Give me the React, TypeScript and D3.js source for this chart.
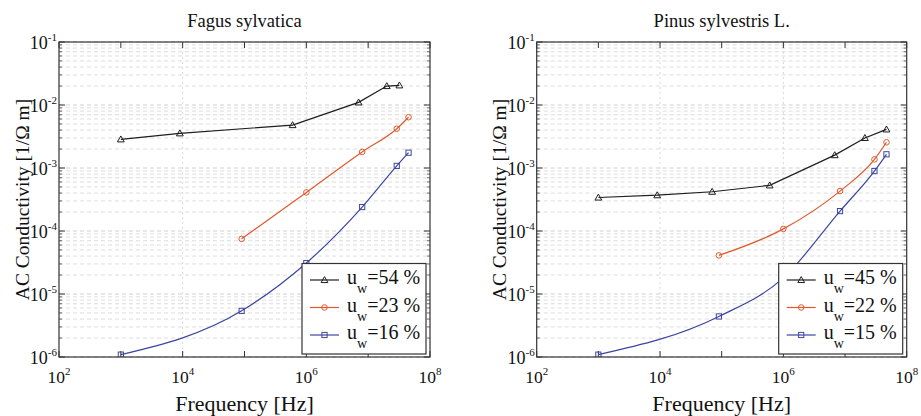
import React from "react";
import * as d3 from "d3";

// ---------- DATA ----------
const fagusTitle = "Fagus sylvatica";
const pinusTitle = "Pinus sylvestris L.";

const fagusLabels = ["54", "23", "16"];
const fagusFreqHigh = [1e3, 9e3, 6e5, 7e6, 2e7, 3.2e7];
const fagusCondHigh = [2.85e-3, 3.55e-3, 4.8e-3, 1.1e-2, 2.0e-2, 2.05e-2];
const fagusFreqMid = [9e4, 1e6, 8e6, 2.9e7, 4.5e7];
const fagusCondMid = [7.5e-5, 4.1e-4, 1.8e-3, 4.2e-3, 6.4e-3];
const fagusFreqLow = [1e3, 9e4, 1e6, 8e6, 2.9e7, 4.5e7];
const fagusCondLow = [1.09e-6, 5.4e-6, 3.1e-5, 2.4e-4, 1.08e-3, 1.75e-3];

const pinusLabels = ["45", "22", "15"];
const pinusFreqHigh = [1e3, 9e3, 7e4, 6e5, 6.8e6, 2.1e7, 4.7e7];
const pinusCondHigh = [3.4e-4, 3.7e-4, 4.2e-4, 5.3e-4, 1.6e-3, 3.0e-3, 4.1e-3];
const pinusFreqMid = [9e4, 1e6, 8.3e6, 3e7, 4.7e7];
const pinusCondMid = [4.1e-5, 1.08e-4, 4.3e-4, 1.37e-3, 2.56e-3];
const pinusFreqLow = [1e3, 9e4, 1e6, 8.3e6, 3e7, 4.7e7];
const pinusCondLow = [1.09e-6, 4.4e-6, 1.8e-5, 2.07e-4, 8.95e-4, 1.65e-3];

const xTickExps = [2, 4, 6, 8];
const yTickExps = [-1, -2, -3, -4, -5, -6];
const xDomain = [1e2, 1e8];
const yDomain = [1e-6, 1e-1];

const seriesColors = ["#1e1e1e", "#e0582c", "#3c46a0"];
const seriesMarkers = ["triangle", "circle", "square"];

const FONT = "Liberation Serif, Tinos, DejaVu Serif, Times New Roman, serif";

type Series = { f: number[]; s: number[]; label: string };

function Marker({ kind, x, y, color }: { kind: string; x: number; y: number; color: string }) {
  if (kind === "triangle") {
    const r = 3.4;
    const pts = `${x},${y - r} ${x - r},${y + r * 0.75} ${x + r},${y + r * 0.75}`;
    return <polygon points={pts} fill="none" stroke={color} strokeWidth={1} />;
  }
  if (kind === "circle") {
    return <circle cx={x} cy={y} r={2.8} fill="none" stroke={color} strokeWidth={1} />;
  }
  return <rect x={x - 2.6} y={y - 2.6} width={5.2} height={5.2} fill="none" stroke={color} strokeWidth={1} />;
}

function Panel({
  id,
  x0,
  x1,
  title,
  series,
}: {
  id: string;
  x0: number;
  x1: number;
  title: string;
  series: Series[];
}) {
  const y0 = 42;
  const y1 = 357;
  const xs = d3.scaleLog().domain(xDomain).range([x0, x1]);
  const ys = d3.scaleLog().domain(yDomain).range([y1, y0]);

  const yMinor: number[] = [];
  for (let e = -6; e < -1; e++) {
    for (let m = 2; m <= 9; m++) yMinor.push(m * Math.pow(10, e));
  }
  const xMajorAll: number[] = [];
  for (let e = 2; e <= 8; e++) xMajorAll.push(Math.pow(10, e));

  const curved = d3
    .line<[number, number]>()
    .x((d) => xs(d[0]))
    .y((d) => ys(d[1]))
    .curve(d3.curveMonotoneX);
  const straight = d3
    .line<[number, number]>()
    .x((d) => xs(d[0]))
    .y((d) => ys(d[1]));

  const cx = (x0 + x1) / 2;
  const cy = (y0 + y1) / 2;

  const lgX0 = x1 - 128;
  const lgX1 = x1 - 4;
  const lgY0 = 263.5;
  const lgY1 = 354;
  const rowY = [280, 307.5, 335];

  return (
    <g>
      <defs>
        <clipPath id={`clip-${id}`}>
          <rect x={x0} y={y0} width={x1 - x0} height={y1 - y0} />
        </clipPath>
      </defs>
      <rect x={x0} y={y0} width={x1 - x0} height={y1 - y0} fill="#fff" />
      {yMinor.map((v, i) => (
        <line key={"gm" + i} x1={x0} x2={x1} y1={ys(v)} y2={ys(v)} stroke="#d4d4d4" strokeWidth={0.8} strokeDasharray="4,3" />
      ))}
      {yTickExps.map((e) => (
        <line key={"gM" + e} x1={x0} x2={x1} y1={ys(Math.pow(10, e))} y2={ys(Math.pow(10, e))} stroke="#c4c4c4" strokeWidth={0.8} strokeDasharray="4,3" />
      ))}
      {[4, 6].map((e) => (
        <line key={"gx" + e} x1={xs(Math.pow(10, e))} x2={xs(Math.pow(10, e))} y1={y0} y2={y1} stroke="#cfcfcf" strokeWidth={0.8} strokeDasharray="2,3" />
      ))}
      {yTickExps.map((e) => {
        const y = ys(Math.pow(10, e));
        return (
          <g key={"ty" + e}>
            <line x1={x0} x2={x0 + 6} y1={y} y2={y} stroke="#333" />
            <line x1={x1} x2={x1 - 6} y1={y} y2={y} stroke="#333" />
          </g>
        );
      })}
      {yMinor.map((v, i) => (
        <g key={"tym" + i}>
          <line x1={x0} x2={x0 + 3} y1={ys(v)} y2={ys(v)} stroke="#444" strokeWidth={0.8} />
          <line x1={x1} x2={x1 - 3} y1={ys(v)} y2={ys(v)} stroke="#444" strokeWidth={0.8} />
        </g>
      ))}
      {xMajorAll.map((v, i) => (
        <g key={"tx" + i}>
          <line x1={xs(v)} x2={xs(v)} y1={y1} y2={y1 - 6} stroke="#333" />
          <line x1={xs(v)} x2={xs(v)} y1={y0} y2={y0 + 6} stroke="#333" />
        </g>
      ))}
      <g clipPath={`url(#clip-${id})`}>
        {series.map((s, si) => {
          const pts: [number, number][] = s.f.map((f, i) => [f, s.s[i]]);
          const gen = si === 0 ? straight : curved;
          return (
            <g key={"s" + si}>
              <path d={gen(pts) || ""} fill="none" stroke={seriesColors[si]} strokeWidth={1.2} />
              {pts.map((p, i) => (
                <Marker key={i} kind={seriesMarkers[si]} x={xs(p[0])} y={ys(p[1])} color={seriesColors[si]} />
              ))}
            </g>
          );
        })}
      </g>
      <rect x={x0} y={y0} width={x1 - x0} height={y1 - y0} fill="none" stroke="#333" strokeWidth={1.2} />
      <rect x={lgX0} y={lgY0} width={lgX1 - lgX0} height={lgY1 - lgY0} fill="#fff" stroke="#333" strokeWidth={1.2} />
      {series.map((s, si) => (
        <g key={"lg" + si}>
          <line x1={lgX0 + 8} x2={lgX0 + 37} y1={rowY[si]} y2={rowY[si]} stroke={seriesColors[si]} strokeWidth={1.2} />
          <Marker kind={seriesMarkers[si]} x={lgX0 + 22.5} y={rowY[si]} color={seriesColors[si]} />
          <text x={lgX0 + 45} y={rowY[si] + 4} fontFamily={FONT} fontSize={20} fill="#111">
            u
            <tspan dy={9} fontSize={14}>w</tspan>
            <tspan dy={-9} fontSize={20}>{"=" + s.label + " %"}</tspan>
          </text>
        </g>
      ))}
      {yTickExps.map((e) => (
        <text key={"yl" + e} x={x0 - 2} y={ys(Math.pow(10, e)) + 7} textAnchor="end" fontFamily={FONT} fontSize={18} fill="#111">
          10
          <tspan dy={-8} fontSize={11}>{String(e)}</tspan>
        </text>
      ))}
      {xTickExps.map((e) => (
        <text key={"xl" + e} x={xs(Math.pow(10, e))} y={383} textAnchor="middle" fontFamily={FONT} fontSize={17.5} fill="#111">
          10
          <tspan dy={-8} fontSize={11}>{String(e)}</tspan>
        </text>
      ))}
      <text x={cx} y={27} textAnchor="middle" fontFamily={FONT} fontSize={18.5} fill="#111">
        {title}
      </text>
      <text x={cx} y={411} textAnchor="middle" fontFamily={FONT} fontSize={22} fill="#111">
        Frequency [Hz]
      </text>
      <text
        transform={`translate(${x0 - 30.5},${cy}) rotate(-90)`}
        textAnchor="middle"
        fontFamily={FONT}
        fontSize={19.5}
        fill="#111"
      >
        AC Conductivity [1/Ω m]
      </text>
    </g>
  );
}

export default function App() {
  const fagus: Series[] = [
    { f: fagusFreqHigh, s: fagusCondHigh, label: fagusLabels[0] },
    { f: fagusFreqMid, s: fagusCondMid, label: fagusLabels[1] },
    { f: fagusFreqLow, s: fagusCondLow, label: fagusLabels[2] },
  ];
  const pinus: Series[] = [
    { f: pinusFreqHigh, s: pinusCondHigh, label: pinusLabels[0] },
    { f: pinusFreqMid, s: pinusCondMid, label: pinusLabels[1] },
    { f: pinusFreqLow, s: pinusCondLow, label: pinusLabels[2] },
  ];
  return (
    <svg
      width={921}
      height={416}
      style={{ position: "absolute", left: 0, top: 0, background: "#fff" }}
    >
      <rect width={921} height={416} fill="#fff" />
      <Panel id="a" x0={59} x1={430} title={fagusTitle} series={fagus} />
      <Panel id="b" x0={536.7} x1={906.7} title={pinusTitle} series={pinus} />
    </svg>
  );
}
